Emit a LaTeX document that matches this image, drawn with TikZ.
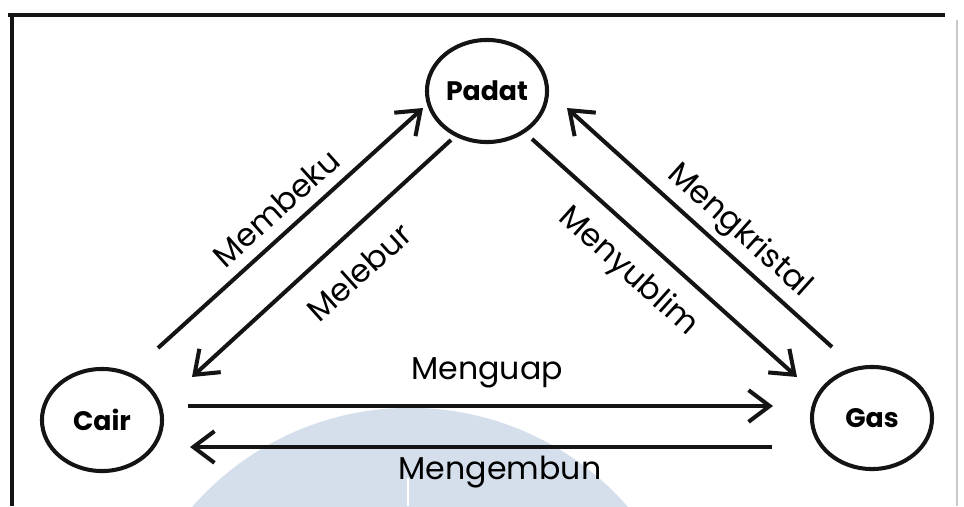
\documentclass[tikz,border=0pt]{standalone}
\usepackage{fontspec}
\usepackage{xcolor}
\usepackage{tikz}
\usetikzlibrary{arrows.meta}
\setmainfont{Poppins}
\definecolor{wujudink}{HTML}{141414}
\definecolor{wujudmark}{HTML}{D5DFEB}
\definecolor{wujudedge}{HTML}{C8C8C8}

\tikzset{
  phase/.style={draw=wujudink, line width=1.15pt, ellipse, minimum width=1.2cm,
    minimum height=1.02cm, inner sep=0pt, font=\bfseries\fontsize{7.6}{9}\selectfont},
  change/.style={draw=wujudink, line width=1.15pt,
    -{Straight Barb[length=6pt,width=9pt,line width=1.15pt]}},
  tag/.style={inner sep=0pt, font=\fontsize{9}{11}\selectfont}
}
\usetikzlibrary{shapes.geometric}

\begin{document}
\begin{tikzpicture}[x=0.01cm, y=-0.01cm]
  \useasboundingbox (0,0) rectangle (964,506);
  % watermark
  \begin{scope}
    \clip (0,0) rectangle (964,506);
    \fill[wujudmark] (410,697) circle [radius=2.89cm];
    \draw[white, line width=0.6pt] (408,478) -- (408,506);
  \end{scope}
  % frame
  \draw[wujudink, line width=1.4pt] (8,15) -- (945,15);
  \draw[wujudink, line width=1.15pt] (12,13) -- (12,506);
  \draw[wujudedge, line width=0.4pt] (957,20) -- (957,506);

  % phases
  \node[phase] (padat) at (487,91) {Padat};
  \node[phase] (cair) at (102,420) {Cair};
  \node[phase] (gas) at (872,418) {Gas};

  % end points
  \coordinate (bekuA) at (158,348);
  \coordinate (bekuB) at (423,108);
  \coordinate (leburA) at (451,140);
  \coordinate (leburB) at (192,377);
  \coordinate (kristalA) at (832,347);
  \coordinate (kristalB) at (567,108);
  \coordinate (sublimA) at (532,139);
  \coordinate (sublimB) at (797,377);
  \coordinate (uapA) at (188,406);
  \coordinate (uapB) at (773,406);
  \coordinate (embunA) at (772,447);
  \coordinate (embunB) at (190,447);

  \draw[change] (bekuA) -- (bekuB);
  \draw[change] (leburA) -- (leburB);
  \draw[change] (kristalA) -- (kristalB);
  \draw[change] (sublimA) -- (sublimB);
  \draw[change] (uapA) -- (uapB);
  \draw[change] (embunA) -- (embunB);

  % labels
  \node[tag, rotate=42] (membeku) at (276,208) {Membeku};
  \node[tag, rotate=42] (melebur) at (359,272) {Melebur};
  \node[tag, rotate=-42] (mengkristal) at (739,231) {Mengkristal};
  \node[tag, rotate=-42] (menyublim) at (628,272) {Menyublim};
  \node[tag] (menguap) at (487,373) {Menguap};
  \node[tag] (mengembun) at (500,472) {Mengembun};
\end{tikzpicture}
\end{document}
